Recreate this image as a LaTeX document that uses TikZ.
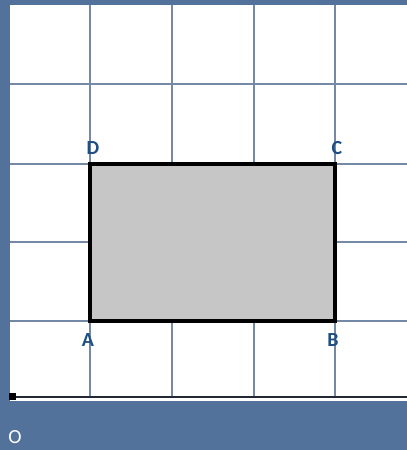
\documentclass[tikz,border=0pt]{standalone}
\usepackage{fontspec}
\setmainfont{Carlito}
\definecolor{bgblue}{HTML}{52729C}
\definecolor{gridc}{HTML}{7489A6}
\definecolor{labc}{HTML}{1F4F82}
\definecolor{fillg}{HTML}{C6C6C6}
\begin{document}
\begin{tikzpicture}[x=1pt,y=-1pt,
  gridline/.style={draw=gridc,line width=1.8pt},
  lab/.style={text=labc,font=\bfseries\fontsize{20}{20}\selectfont,inner sep=0pt},
  rect/.style={draw=black,line width=3.5pt,fill=fillg}]
\useasboundingbox (0,0) rectangle (407,450);
\fill[bgblue] (0,0) rectangle (407,450);
\fill[white] (10,5) rectangle (407,401);
% grid
\foreach \x in {90,172,254,335} \draw[gridline] (\x,5) -- (\x,397);
\foreach \y in {84,164,242,321} \draw[gridline] (10,\y) -- (407,\y);
% axis
\draw[draw=black!70!gridc,line width=2pt] (10,397) -- (407,397);
% rectangle
\coordinate (A) at (90,321);
\coordinate (B) at (335,321);
\coordinate (C) at (335,164);
\coordinate (D) at (90,164);
\coordinate (O) at (12,397);
\draw[rect] (A) -- (B) -- (C) -- (D) -- cycle;
\fill[black] (9,393) rectangle (16,400);
% labels
\node[lab] (lA) at (88,340) {A};
\node[lab] (lB) at (333,340) {B};
\node[lab] (lC) at (337,148) {C};
\node[lab] (lD) at (93,148) {D};
\node[lab,text=white,font=\fontsize{20}{20}\selectfont] (lO) at (15,437) {O};
\end{tikzpicture}
\end{document}
